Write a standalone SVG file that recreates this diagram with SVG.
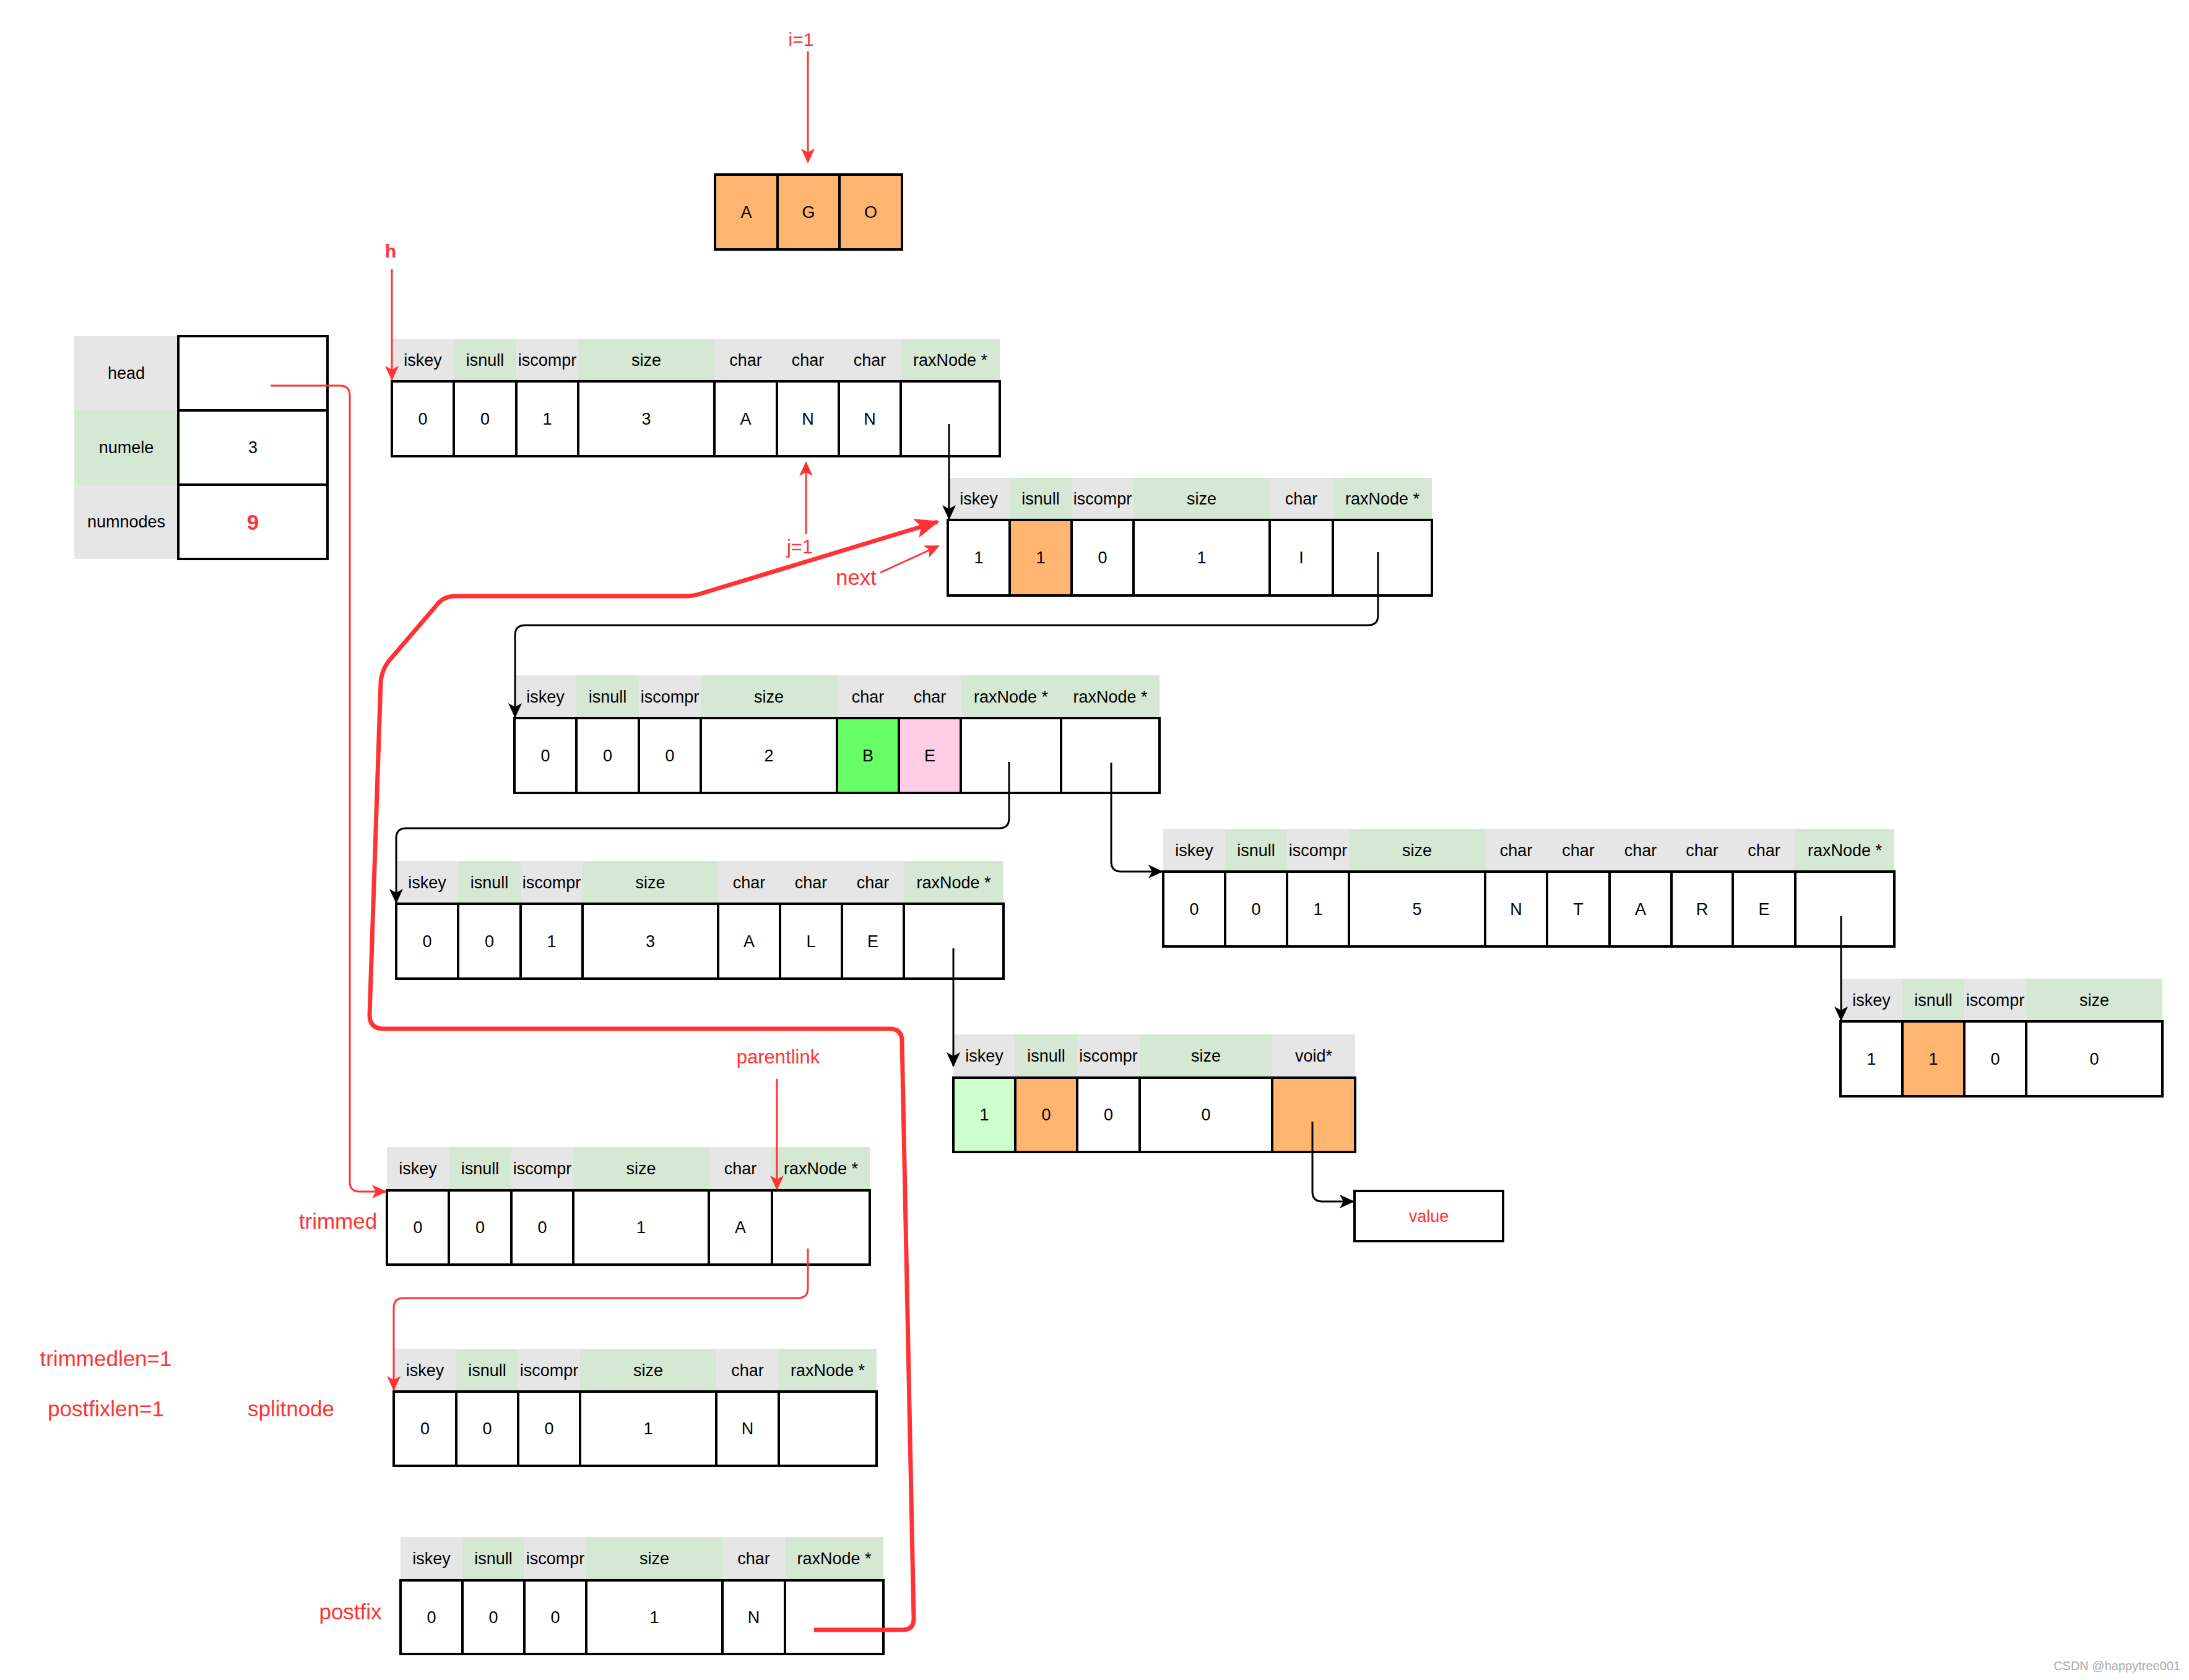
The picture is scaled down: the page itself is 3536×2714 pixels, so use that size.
<svg xmlns="http://www.w3.org/2000/svg" width="3536" height="2714" viewBox="0 0 3536 2714">
<style>
.bg{fill:#FFFFFF}
.hg{fill:#E6E6E6}
.hG{fill:#D5E8D4}
.c{fill:#FFFFFF;stroke:#000000;stroke-width:4}
.or{fill:#FFB570}
.gr{fill:#66FF66}
.pk{fill:#FFCCE6}
.lg{fill:#CCFFCC}
.t{font-family:"Liberation Sans",Arial,sans-serif;font-size:27px;fill:#000000;text-anchor:middle;dominant-baseline:central}
.rt{font-family:"Liberation Sans",Arial,sans-serif;fill:#FF3333;text-anchor:middle;dominant-baseline:central}
.con{fill:none;stroke:#000000;stroke-width:3}
.rc{fill:none;stroke:#FF3333;stroke-width:3}
.rk{fill:none;stroke:#FF3333;stroke-width:7;stroke-linejoin:round}
.wm{font-family:"Liberation Sans",Arial,sans-serif;font-size:20px;fill:#AAAAAA;text-anchor:end}
</style>
<defs>
<marker id="ab" markerUnits="userSpaceOnUse" viewBox="0 0 24 22" markerWidth="24" markerHeight="22" refX="22" refY="11" orient="auto"><path d="M0,0 L24,11 L0,22 L6,11 z" fill="#000000"/></marker>
<marker id="ar" markerUnits="userSpaceOnUse" viewBox="0 0 24 22" markerWidth="24" markerHeight="22" refX="22" refY="11" orient="auto"><path d="M0,0 L24,11 L0,22 L6,11 z" fill="#FF3333"/></marker>
<marker id="ark" markerUnits="userSpaceOnUse" viewBox="0 0 40 32" markerWidth="40" markerHeight="32" refX="36" refY="16" orient="auto"><path d="M0,0 L40,16 L0,32 L9,16 z" fill="#FF3333"/></marker>
</defs>
<rect class="bg" x="0" y="0" width="3536" height="2714"/>

<g id="ago">
<rect class="c or" x="1155" y="282" width="101" height="121"/>
<rect class="c or" x="1256" y="282" width="100" height="121"/>
<rect class="c or" x="1356" y="282" width="101" height="121"/>
<text class="t" x="1205.5" y="342.5">A</text>
<text class="t" x="1306" y="342.5">G</text>
<text class="t" x="1406.5" y="342.5">O</text>
</g>

<g id="rax">
<rect class="hg" x="120" y="543" width="168" height="120"/>
<rect class="hG" x="120" y="663" width="168" height="120"/>
<rect class="hg" x="120" y="783" width="168" height="120"/>
<text class="t" x="204" y="603">head</text>
<text class="t" x="204" y="723">numele</text>
<text class="t" x="204" y="843">numnodes</text>
<rect class="c" x="288" y="543" width="241" height="120"/>
<rect class="c" x="288" y="663" width="241" height="120"/>
<rect class="c" x="288" y="783" width="241" height="120"/>
<text class="t" x="408.5" y="723">3</text>
<text class="t" x="408.5" y="843" style="font-size:35px;font-weight:bold;fill:#FF3333">9</text>
</g>

<g id="node-ANN">
<rect class="hg" x="633" y="548" width="100" height="68"/>
<rect class="hG" x="733" y="548" width="101" height="68"/>
<rect class="hg" x="834" y="548" width="100" height="68"/>
<rect class="hG" x="934" y="548" width="220" height="68"/>
<rect class="hg" x="1154" y="548" width="101" height="68"/>
<rect class="hg" x="1255" y="548" width="100" height="68"/>
<rect class="hg" x="1355" y="548" width="100" height="68"/>
<rect class="hG" x="1455" y="548" width="160" height="68"/>
<text class="t" x="683" y="582">iskey</text>
<text class="t" x="783.5" y="582">isnull</text>
<text class="t" x="884" y="582">iscompr</text>
<text class="t" x="1044" y="582">size</text>
<text class="t" x="1204.5" y="582">char</text>
<text class="t" x="1305" y="582">char</text>
<text class="t" x="1405" y="582">char</text>
<text class="t" x="1535" y="582">raxNode *</text>
<rect class="c" x="633" y="616" width="100" height="121"/>
<rect class="c" x="733" y="616" width="101" height="121"/>
<rect class="c" x="834" y="616" width="100" height="121"/>
<rect class="c" x="934" y="616" width="220" height="121"/>
<rect class="c" x="1154" y="616" width="101" height="121"/>
<rect class="c" x="1255" y="616" width="100" height="121"/>
<rect class="c" x="1355" y="616" width="100" height="121"/>
<rect class="c" x="1455" y="616" width="160" height="121"/>
<text class="t" x="683" y="676.5">0</text>
<text class="t" x="783.5" y="676.5">0</text>
<text class="t" x="884" y="676.5">1</text>
<text class="t" x="1044" y="676.5">3</text>
<text class="t" x="1204.5" y="676.5">A</text>
<text class="t" x="1305" y="676.5">N</text>
<text class="t" x="1405" y="676.5">N</text>
</g>

<g id="node-I">
<rect class="hg" x="1531" y="772" width="100" height="68"/>
<rect class="hG" x="1631" y="772" width="100" height="68"/>
<rect class="hg" x="1731" y="772" width="100" height="68"/>
<rect class="hG" x="1831" y="772" width="220" height="68"/>
<rect class="hg" x="2051" y="772" width="102" height="68"/>
<rect class="hG" x="2153" y="772" width="160" height="68"/>
<text class="t" x="1581" y="806">iskey</text>
<text class="t" x="1681" y="806">isnull</text>
<text class="t" x="1781" y="806">iscompr</text>
<text class="t" x="1941" y="806">size</text>
<text class="t" x="2102" y="806">char</text>
<text class="t" x="2233" y="806">raxNode *</text>
<rect class="c" x="1531" y="840" width="100" height="122"/>
<rect class="c or" x="1631" y="840" width="100" height="122"/>
<rect class="c" x="1731" y="840" width="100" height="122"/>
<rect class="c" x="1831" y="840" width="220" height="122"/>
<rect class="c" x="2051" y="840" width="102" height="122"/>
<rect class="c" x="2153" y="840" width="160" height="122"/>
<text class="t" x="1581" y="901">1</text>
<text class="t" x="1681" y="901">1</text>
<text class="t" x="1781" y="901">0</text>
<text class="t" x="1941" y="901">1</text>
<text class="t" x="2102" y="901">I</text>
</g>

<g id="node-BE">
<rect class="hg" x="831" y="1091" width="100" height="69"/>
<rect class="hG" x="931" y="1091" width="101" height="69"/>
<rect class="hg" x="1032" y="1091" width="100" height="69"/>
<rect class="hG" x="1132" y="1091" width="220" height="69"/>
<rect class="hg" x="1352" y="1091" width="100" height="69"/>
<rect class="hg" x="1452" y="1091" width="100" height="69"/>
<rect class="hG" x="1552" y="1091" width="162" height="69"/>
<rect class="hG" x="1714" y="1091" width="159" height="69"/>
<text class="t" x="881" y="1125.5">iskey</text>
<text class="t" x="981.5" y="1125.5">isnull</text>
<text class="t" x="1082" y="1125.5">iscompr</text>
<text class="t" x="1242" y="1125.5">size</text>
<text class="t" x="1402" y="1125.5">char</text>
<text class="t" x="1502" y="1125.5">char</text>
<text class="t" x="1633" y="1125.5">raxNode *</text>
<text class="t" x="1793.5" y="1125.5">raxNode *</text>
<rect class="c" x="831" y="1160" width="100" height="121"/>
<rect class="c" x="931" y="1160" width="101" height="121"/>
<rect class="c" x="1032" y="1160" width="100" height="121"/>
<rect class="c" x="1132" y="1160" width="220" height="121"/>
<rect class="c gr" x="1352" y="1160" width="100" height="121"/>
<rect class="c pk" x="1452" y="1160" width="100" height="121"/>
<rect class="c" x="1552" y="1160" width="162" height="121"/>
<rect class="c" x="1714" y="1160" width="159" height="121"/>
<text class="t" x="881" y="1220.5">0</text>
<text class="t" x="981.5" y="1220.5">0</text>
<text class="t" x="1082" y="1220.5">0</text>
<text class="t" x="1242" y="1220.5">2</text>
<text class="t" x="1402" y="1220.5">B</text>
<text class="t" x="1502" y="1220.5">E</text>
</g>

<g id="node-ALE">
<rect class="hg" x="640" y="1391" width="100" height="69"/>
<rect class="hG" x="740" y="1391" width="101" height="69"/>
<rect class="hg" x="841" y="1391" width="100" height="69"/>
<rect class="hG" x="941" y="1391" width="219" height="69"/>
<rect class="hg" x="1160" y="1391" width="100" height="69"/>
<rect class="hg" x="1260" y="1391" width="100" height="69"/>
<rect class="hg" x="1360" y="1391" width="100" height="69"/>
<rect class="hG" x="1460" y="1391" width="161" height="69"/>
<text class="t" x="690" y="1425.5">iskey</text>
<text class="t" x="790.5" y="1425.5">isnull</text>
<text class="t" x="891" y="1425.5">iscompr</text>
<text class="t" x="1050.5" y="1425.5">size</text>
<text class="t" x="1210" y="1425.5">char</text>
<text class="t" x="1310" y="1425.5">char</text>
<text class="t" x="1410" y="1425.5">char</text>
<text class="t" x="1540.5" y="1425.5">raxNode *</text>
<rect class="c" x="640" y="1460" width="100" height="121"/>
<rect class="c" x="740" y="1460" width="101" height="121"/>
<rect class="c" x="841" y="1460" width="100" height="121"/>
<rect class="c" x="941" y="1460" width="219" height="121"/>
<rect class="c" x="1160" y="1460" width="100" height="121"/>
<rect class="c" x="1260" y="1460" width="100" height="121"/>
<rect class="c" x="1360" y="1460" width="100" height="121"/>
<rect class="c" x="1460" y="1460" width="161" height="121"/>
<text class="t" x="690" y="1520.5">0</text>
<text class="t" x="790.5" y="1520.5">0</text>
<text class="t" x="891" y="1520.5">1</text>
<text class="t" x="1050.5" y="1520.5">3</text>
<text class="t" x="1210" y="1520.5">A</text>
<text class="t" x="1310" y="1520.5">L</text>
<text class="t" x="1410" y="1520.5">E</text>
</g>

<g id="node-NTARE">
<rect class="hg" x="1879" y="1339" width="100" height="69"/>
<rect class="hG" x="1979" y="1339" width="100" height="69"/>
<rect class="hg" x="2079" y="1339" width="100" height="69"/>
<rect class="hG" x="2179" y="1339" width="220" height="69"/>
<rect class="hg" x="2399" y="1339" width="100" height="69"/>
<rect class="hg" x="2499" y="1339" width="101" height="69"/>
<rect class="hg" x="2600" y="1339" width="100" height="69"/>
<rect class="hg" x="2700" y="1339" width="99" height="69"/>
<rect class="hg" x="2799" y="1339" width="101" height="69"/>
<rect class="hG" x="2900" y="1339" width="160" height="69"/>
<text class="t" x="1929" y="1373.5">iskey</text>
<text class="t" x="2029" y="1373.5">isnull</text>
<text class="t" x="2129" y="1373.5">iscompr</text>
<text class="t" x="2289" y="1373.5">size</text>
<text class="t" x="2449" y="1373.5">char</text>
<text class="t" x="2549.5" y="1373.5">char</text>
<text class="t" x="2650" y="1373.5">char</text>
<text class="t" x="2749.5" y="1373.5">char</text>
<text class="t" x="2849.5" y="1373.5">char</text>
<text class="t" x="2980" y="1373.5">raxNode *</text>
<rect class="c" x="1879" y="1408" width="100" height="121"/>
<rect class="c" x="1979" y="1408" width="100" height="121"/>
<rect class="c" x="2079" y="1408" width="100" height="121"/>
<rect class="c" x="2179" y="1408" width="220" height="121"/>
<rect class="c" x="2399" y="1408" width="100" height="121"/>
<rect class="c" x="2499" y="1408" width="101" height="121"/>
<rect class="c" x="2600" y="1408" width="100" height="121"/>
<rect class="c" x="2700" y="1408" width="99" height="121"/>
<rect class="c" x="2799" y="1408" width="101" height="121"/>
<rect class="c" x="2900" y="1408" width="160" height="121"/>
<text class="t" x="1929" y="1468.5">0</text>
<text class="t" x="2029" y="1468.5">0</text>
<text class="t" x="2129" y="1468.5">1</text>
<text class="t" x="2289" y="1468.5">5</text>
<text class="t" x="2449" y="1468.5">N</text>
<text class="t" x="2549.5" y="1468.5">T</text>
<text class="t" x="2650" y="1468.5">A</text>
<text class="t" x="2749.5" y="1468.5">R</text>
<text class="t" x="2849.5" y="1468.5">E</text>
</g>

<g id="node-leaf-right">
<rect class="hg" x="2973" y="1581" width="100" height="69"/>
<rect class="hG" x="3073" y="1581" width="100" height="69"/>
<rect class="hg" x="3173" y="1581" width="100" height="69"/>
<rect class="hG" x="3273" y="1581" width="220" height="69"/>
<text class="t" x="3023" y="1615.5">iskey</text>
<text class="t" x="3123" y="1615.5">isnull</text>
<text class="t" x="3223" y="1615.5">iscompr</text>
<text class="t" x="3383" y="1615.5">size</text>
<rect class="c" x="2973" y="1650" width="100" height="121"/>
<rect class="c or" x="3073" y="1650" width="100" height="121"/>
<rect class="c" x="3173" y="1650" width="100" height="121"/>
<rect class="c" x="3273" y="1650" width="220" height="121"/>
<text class="t" x="3023" y="1710.5">1</text>
<text class="t" x="3123" y="1710.5">1</text>
<text class="t" x="3223" y="1710.5">0</text>
<text class="t" x="3383" y="1710.5">0</text>
</g>

<g id="node-leaf-value">
<rect class="hg" x="1540" y="1671" width="100" height="70"/>
<rect class="hG" x="1640" y="1671" width="100" height="70"/>
<rect class="hg" x="1740" y="1671" width="101" height="70"/>
<rect class="hG" x="1841" y="1671" width="214" height="70"/>
<rect class="hg" x="2055" y="1671" width="134" height="70"/>
<text class="t" x="1590" y="1706">iskey</text>
<text class="t" x="1690" y="1706">isnull</text>
<text class="t" x="1790.5" y="1706">iscompr</text>
<text class="t" x="1948" y="1706">size</text>
<text class="t" x="2122" y="1706">void*</text>
<rect class="c lg" x="1540" y="1741" width="100" height="120"/>
<rect class="c or" x="1640" y="1741" width="100" height="120"/>
<rect class="c" x="1740" y="1741" width="101" height="120"/>
<rect class="c" x="1841" y="1741" width="214" height="120"/>
<rect class="c or" x="2055" y="1741" width="134" height="120"/>
<text class="t" x="1590" y="1801">1</text>
<text class="t" x="1690" y="1801">0</text>
<text class="t" x="1790.5" y="1801">0</text>
<text class="t" x="1948" y="1801">0</text>
</g>

<g id="value">
<rect class="c" x="2188" y="1924" width="240" height="81"/>
<text class="rt" x="2308" y="1964.5" style="font-size:27px">value</text>
</g>

<g id="node-trimmed">
<rect class="hg" x="625" y="1853" width="100" height="70"/>
<rect class="hG" x="725" y="1853" width="101" height="70"/>
<rect class="hg" x="826" y="1853" width="100" height="70"/>
<rect class="hG" x="926" y="1853" width="219" height="70"/>
<rect class="hg" x="1145" y="1853" width="102" height="70"/>
<rect class="hG" x="1247" y="1853" width="158" height="70"/>
<text class="t" x="675" y="1888">iskey</text>
<text class="t" x="775.5" y="1888">isnull</text>
<text class="t" x="876" y="1888">iscompr</text>
<text class="t" x="1035.5" y="1888">size</text>
<text class="t" x="1196" y="1888">char</text>
<text class="t" x="1326" y="1888">raxNode *</text>
<rect class="c" x="625" y="1923" width="100" height="120"/>
<rect class="c" x="725" y="1923" width="101" height="120"/>
<rect class="c" x="826" y="1923" width="100" height="120"/>
<rect class="c" x="926" y="1923" width="219" height="120"/>
<rect class="c" x="1145" y="1923" width="102" height="120"/>
<rect class="c" x="1247" y="1923" width="158" height="120"/>
<text class="t" x="675" y="1983">0</text>
<text class="t" x="775.5" y="1983">0</text>
<text class="t" x="876" y="1983">0</text>
<text class="t" x="1035.5" y="1983">1</text>
<text class="t" x="1196" y="1983">A</text>
</g>

<g id="node-splitnode">
<rect class="hg" x="636" y="2179" width="101" height="69"/>
<rect class="hG" x="737" y="2179" width="100" height="69"/>
<rect class="hg" x="837" y="2179" width="100" height="69"/>
<rect class="hG" x="937" y="2179" width="220" height="69"/>
<rect class="hg" x="1157" y="2179" width="101" height="69"/>
<rect class="hG" x="1258" y="2179" width="158" height="69"/>
<text class="t" x="686.5" y="2213.5">iskey</text>
<text class="t" x="787" y="2213.5">isnull</text>
<text class="t" x="887" y="2213.5">iscompr</text>
<text class="t" x="1047" y="2213.5">size</text>
<text class="t" x="1207.5" y="2213.5">char</text>
<text class="t" x="1337" y="2213.5">raxNode *</text>
<rect class="c" x="636" y="2248" width="101" height="120"/>
<rect class="c" x="737" y="2248" width="100" height="120"/>
<rect class="c" x="837" y="2248" width="100" height="120"/>
<rect class="c" x="937" y="2248" width="220" height="120"/>
<rect class="c" x="1157" y="2248" width="101" height="120"/>
<rect class="c" x="1258" y="2248" width="158" height="120"/>
<text class="t" x="686.5" y="2308">0</text>
<text class="t" x="787" y="2308">0</text>
<text class="t" x="887" y="2308">0</text>
<text class="t" x="1047" y="2308">1</text>
<text class="t" x="1207.5" y="2308">N</text>
</g>

<g id="node-postfix">
<rect class="hg" x="647" y="2483" width="100" height="70"/>
<rect class="hG" x="747" y="2483" width="100" height="70"/>
<rect class="hg" x="847" y="2483" width="100" height="70"/>
<rect class="hG" x="947" y="2483" width="220" height="70"/>
<rect class="hg" x="1167" y="2483" width="101" height="70"/>
<rect class="hG" x="1268" y="2483" width="159" height="70"/>
<text class="t" x="697" y="2518">iskey</text>
<text class="t" x="797" y="2518">isnull</text>
<text class="t" x="897" y="2518">iscompr</text>
<text class="t" x="1057" y="2518">size</text>
<text class="t" x="1217.5" y="2518">char</text>
<text class="t" x="1347.5" y="2518">raxNode *</text>
<rect class="c" x="647" y="2553" width="100" height="119"/>
<rect class="c" x="747" y="2553" width="100" height="119"/>
<rect class="c" x="847" y="2553" width="100" height="119"/>
<rect class="c" x="947" y="2553" width="220" height="119"/>
<rect class="c" x="1167" y="2553" width="101" height="119"/>
<rect class="c" x="1268" y="2553" width="159" height="119"/>
<text class="t" x="697" y="2612.5">0</text>
<text class="t" x="797" y="2612.5">0</text>
<text class="t" x="897" y="2612.5">0</text>
<text class="t" x="1057" y="2612.5">1</text>
<text class="t" x="1217.5" y="2612.5">N</text>
</g>

<g id="labels">
<text class="rt" x="1294" y="63" style="font-size:30px">i=1</text>
<text class="rt" x="631" y="405" style="font-size:30px;font-weight:bold">h</text>
<text class="rt" x="1292" y="883" style="font-size:31px">j=1</text>
<text class="rt" x="1383" y="932" style="font-size:35px">next</text>
<text class="rt" x="1257" y="1707" style="font-size:31px">parentlink</text>
<text class="rt" x="546" y="1972" style="font-size:35px">trimmed</text>
<text class="rt" x="171" y="2194" style="font-size:35px">trimmedlen=1</text>
<text class="rt" x="171" y="2275" style="font-size:35px">postfixlen=1</text>
<text class="rt" x="470" y="2275" style="font-size:35px">splitnode</text>
<text class="rt" x="566" y="2603" style="font-size:35px">postfix</text>
<text class="wm" x="3522" y="2698">CSDN @happytree001</text>
</g>

<g id="connectors">
<path class="con" d="M1533 685 V838" marker-end="url(#ab)"/>
<path class="con" d="M2226 892 V994 Q2226 1010 2210 1010 H848 Q832 1010 832 1026 V1158" marker-end="url(#ab)"/>
<path class="con" d="M1630 1231 V1322 Q1630 1338 1614 1338 H656 Q640 1338 640 1354 V1458" marker-end="url(#ab)"/>
<path class="con" d="M1795 1232 V1392 Q1795 1408 1811 1408 H1877" marker-end="url(#ab)"/>
<path class="con" d="M1540 1532 V1722" marker-end="url(#ab)"/>
<path class="con" d="M2974 1480 V1648" marker-end="url(#ab)"/>
<path class="con" d="M2120 1812 V1925 Q2120 1941 2136 1941 H2186" marker-end="url(#ab)"/>
<path class="rc" d="M1305 83 V262" marker-end="url(#ar)"/>
<path class="rc" d="M633 435 V613" marker-end="url(#ar)"/>
<path class="rc" d="M1302 863 V747" marker-end="url(#ar)"/>
<path class="rc" d="M1422 925 L1516 882" marker-end="url(#ar)"/>
<path class="rc" d="M437 623 H549 Q565 623 565 639 V1909 Q565 1925 581 1925 H623" marker-end="url(#ar)"/>
<path class="rc" d="M1255 1743 V1921" marker-end="url(#ar)"/>
<path class="rc" d="M1305 2017 V2081 Q1305 2097 1289 2097 H652 Q636 2097 636 2113 V2245" marker-end="url(#ar)"/>
<path class="rk" d="M1315 2633 H1458 Q1476 2633 1476 2615 L1457 1682 Q1457 1662 1437 1662 H620 Q597 1662 597 1640 L615 1102 Q616 1085 627 1069 L705 978 Q716 963 736 963 H1108 Q1120 963 1132 959 L1514 843" marker-end="url(#ark)"/>
</g>
</svg>
